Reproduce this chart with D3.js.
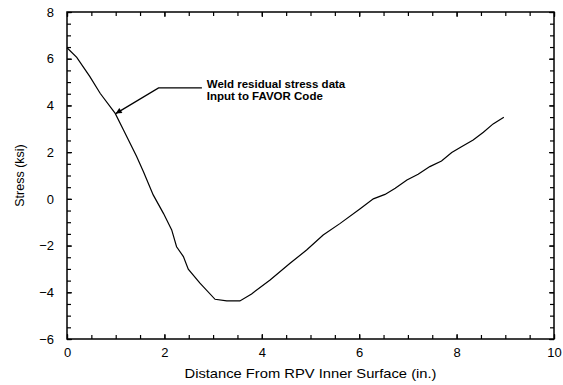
<!DOCTYPE html>
<html><head><meta charset="utf-8">
<script src="https://cdn.jsdelivr.net/npm/d3@7"></script>
<style>body{margin:0;background:#fff}svg{display:block}</style>
</head><body>
<script>
const distance = [0, 0.2, 0.47, 0.68, 0.99, 1.16, 1.43, 1.57, 1.77, 1.98, 2.15, 2.25, 2.39, 2.49, 2.73, 3.04, 3.28, 3.55, 3.79, 4.17, 4.58, 4.92, 5.26, 5.61, 6.02, 6.29, 6.53, 6.74, 6.98, 7.21, 7.45, 7.69, 7.90, 8.10, 8.34, 8.55, 8.75, 8.97];
const stress =   [6.47, 6.06, 5.23, 4.52, 3.66, 2.95, 1.81, 1.16, 0.17, -0.62, -1.33, -2.05, -2.47, -3.01, -3.61, -4.30, -4.37, -4.37, -4.07, -3.47, -2.76, -2.19, -1.55, -1.05, -0.42, 0.0, 0.19, 0.45, 0.81, 1.05, 1.38, 1.62, 1.98, 2.23, 2.52, 2.85, 3.21, 3.49];
const xTickLabels = [0, 2, 4, 6, 8, 10];
const yTickLabels = [-6, -4, -2, 0, 2, 4, 6, 8];
const xLabel = "Distance From RPV Inner Surface (in.)";
const yLabel = "Stress (ksi)";
const annotationLines = ["Weld residual stress data", "Input to FAVOR Code"];

const W = 563, H = 385;
const m = {l: 67, r: 9, t: 12, b: 46};
const svg = d3.select("body").append("svg").attr("width", W).attr("height", H);
const x = d3.scaleLinear().domain([0, 10]).range([m.l, W - m.r]);
const y = d3.scaleLinear().domain([-6, 8]).range([H - m.b, m.t]);
const font = "Arial, 'Liberation Sans', Helvetica, sans-serif";

const minorX = d3.range(0, 10.01, 0.5), minorY = d3.range(-6, 8.01, 0.5);
function styleAxis(g){ g.select(".domain").remove(); g.selectAll("line").attr("stroke","#000").attr("stroke-width",1.2); }
// bottom
svg.append("g").attr("transform",`translate(0,${y(-6)})`)
  .call(d3.axisBottom(x).tickValues(minorX).tickSize(-4).tickFormat(""))
  .call(styleAxis);
svg.append("g").attr("transform",`translate(0,${y(-6)})`)
  .call(d3.axisBottom(x).tickValues(xTickLabels).tickSize(-5).tickPadding(9).tickFormat(d3.format("d")))
  .call(styleAxis)
  .selectAll("text").attr("font-family",font).attr("font-size",13).attr("fill","#000");
// top
svg.append("g").attr("transform",`translate(0,${y(8)})`)
  .call(d3.axisTop(x).tickValues(minorX).tickSize(-4).tickFormat(""))
  .call(styleAxis);
svg.append("g").attr("transform",`translate(0,${y(8)})`)
  .call(d3.axisTop(x).tickValues(xTickLabels).tickSize(-5).tickFormat(""))
  .call(styleAxis);
// left
svg.append("g").attr("transform",`translate(${x(0)},0)`)
  .call(d3.axisLeft(y).tickValues(minorY).tickSize(-4).tickFormat(""))
  .call(styleAxis);
svg.append("g").attr("transform",`translate(${x(0)},0)`)
  .call(d3.axisLeft(y).tickValues(yTickLabels).tickSize(-5).tickPadding(13).tickFormat(d3.format("d")))
  .call(styleAxis)
  .selectAll("text").attr("font-family",font).attr("font-size",13).attr("fill","#000");
// right
svg.append("g").attr("transform",`translate(${x(10)},0)`)
  .call(d3.axisRight(y).tickValues(minorY).tickSize(-4).tickFormat(""))
  .call(styleAxis);
svg.append("g").attr("transform",`translate(${x(10)},0)`)
  .call(d3.axisRight(y).tickValues(yTickLabels).tickSize(-5).tickFormat(""))
  .call(styleAxis);

// frame
svg.append("rect").attr("x",x(0)).attr("y",y(8)).attr("width",x(10)-x(0)).attr("height",y(-6)-y(8))
  .attr("fill","none").attr("stroke","#000").attr("stroke-width",1.5);

// data line
const data = distance.map((d,i)=>({x:d,y:stress[i]}));
svg.append("path").datum(data)
  .attr("d", d3.line().x(d=>x(d.x)).y(d=>y(d.y)))
  .attr("fill","none").attr("stroke","#000").attr("stroke-width",1.2);

// axis labels
svg.append("text").attr("x",(x(0)+x(10))/2 + 0).attr("y",378).attr("text-anchor","middle")
  .attr("font-family",font).attr("font-size",13).attr("textLength",252).attr("lengthAdjust","spacingAndGlyphs").text(xLabel);
svg.append("text").attr("transform",`translate(24,${(y(8)+y(-6))/2}) rotate(-90)`).attr("text-anchor","middle")
  .attr("font-family",font).attr("font-size",12.5).text(yLabel);

// annotation
const ax0 = x(1.0), ay0 = y(3.65);
const ax1 = x(1.88), ay1 = y(4.75);
const ax2 = x(2.77);
svg.append("defs").append("marker").attr("id","arr").attr("viewBox","0 0 10 10").attr("refX",10).attr("refY",5)
  .attr("markerWidth",8).attr("markerHeight",6).attr("markerUnits","userSpaceOnUse").attr("orient","auto")
  .append("path").attr("d","M0,0L10,5L0,10z").attr("fill","#000");
svg.append("polyline").attr("points",`${ax2},${ay1} ${ax1},${ay1} ${ax0},${ay0}`)
  .attr("fill","none").attr("stroke","#000").attr("stroke-width",1.3).attr("marker-end","url(#arr)");
svg.append("g").selectAll("text").data(annotationLines).join("text")
  .attr("x", x(2.87)).attr("y",(d,i)=>87.5+i*12)
  .attr("font-family",font).attr("font-size",11.5).attr("font-weight","bold").text(d=>d);
</script>
</body></html>
